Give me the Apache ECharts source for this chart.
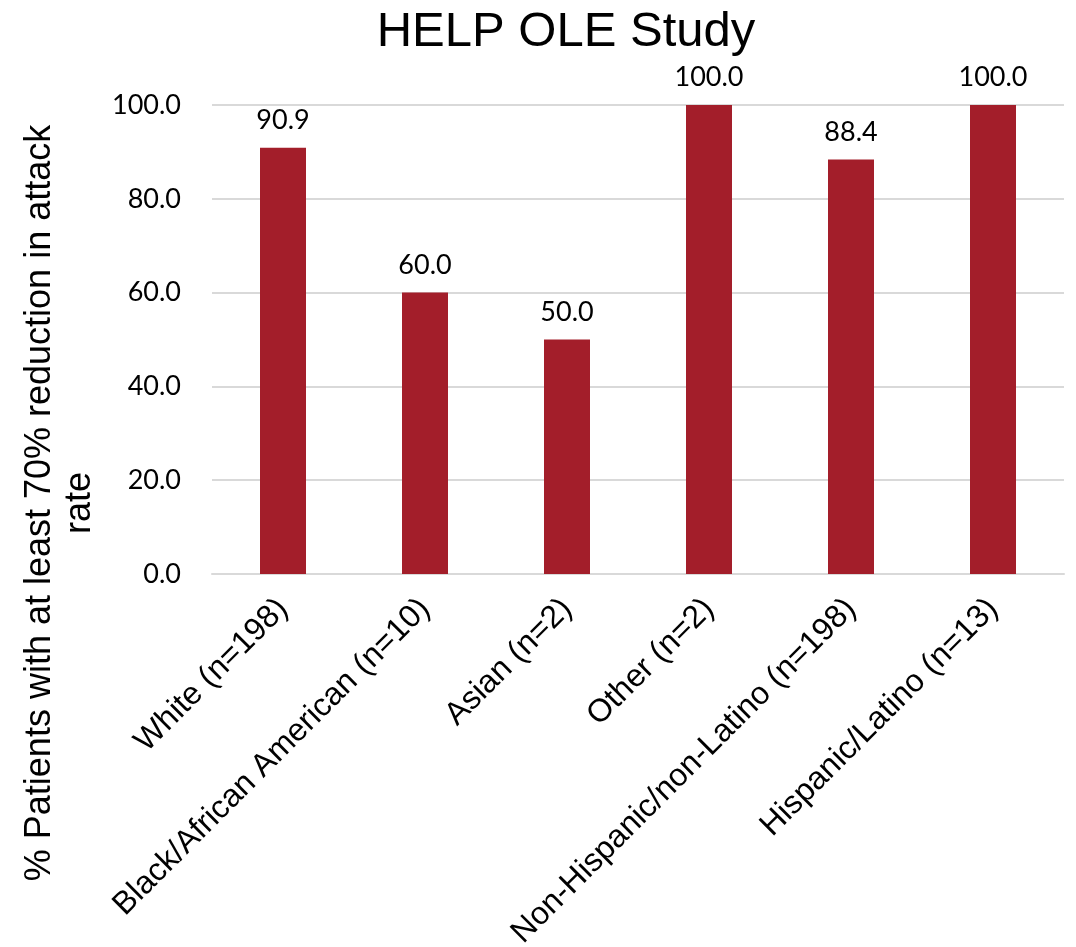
<!DOCTYPE html>
<html>
<head>
<meta charset="utf-8">
<script src="https://cdn.jsdelivr.net/npm/echarts@6/dist/echarts.min.js"></script>
<style>
  html, body { margin: 0; padding: 0; background: #fff; }
  #chart { width: 1076px; height: 947px; }
</style>
</head>
<body>
<div id="chart"></div>
<script>
// Subgroups and response rates (%)
const categories = [
  'White (n=198)',
  'Black/African American (n=10)',
  'Asian (n=2)',
  'Other (n=2)',
  'Non-Hispanic/non-Latino (n=198)',
  'Hispanic/Latino (n=13)'
];
const responseRates = [90.9, 60.0, 50.0, 100.0, 88.4, 100.0];
const yTicks = [0, 20, 40, 60, 80, 100];

const chart = echarts.init(document.getElementById('chart'));

chart.setOption({
  animation: false,
  title: {
    text: 'HELP OLE Study',
    left: 561,
    textAlign: 'center',
    top: 3,
    textStyle: {
      fontFamily: 'Liberation Sans, Arial, sans-serif',
      fontSize: 49,
      fontWeight: 'normal',
      color: '#000'
    }
  },
  grid: {
    left: 212,
    right: 12,
    top: 105,
    bottom: 373,
    containLabel: false,
    outerBoundsMode: 'none'
  },
  xAxis: {
    type: 'category',
    data: categories,
    axisLine: { show: true, lineStyle: { color: '#d9d9d9', width: 2 } },
    axisTick: { show: false },
    axisLabel: {
      rotate: 45,
      interval: 0,
      margin: 30,
      fontFamily: 'Liberation Sans, Arial, sans-serif',
      fontSize: 32,
      color: '#000'
    }
  },
  yAxis: {
    type: 'value',
    min: yTicks[0],
    max: yTicks[yTicks.length - 1],
    interval: 20,
    axisLine: { show: false },
    axisTick: { show: false },
    splitLine: { lineStyle: { color: '#d9d9d9', width: 2 } },
    axisLabel: {
      margin: 31,
      formatter: v => v.toFixed(1),
      fontFamily: 'Lato, sans-serif',
      fontSize: 27,
      color: '#000'
    }
  },
  graphic: [{
    type: 'text',
    x: 60,
    y: 503,
    rotation: Math.PI / 2,
    style: {
      text: '% Patients with at least 70% reduction in attack\nrate',
      fontFamily: 'Liberation Sans, Arial, sans-serif',
      fontSize: 36,
      lineHeight: 40,
      fill: '#000',
      align: 'center',
      verticalAlign: 'middle'
    }
  }],
  series: [{
    type: 'bar',
    data: responseRates,
    barWidth: 46,
    itemStyle: { color: '#a31e2a' },
    label: {
      show: true,
      position: 'top',
      distance: 14,
      formatter: p => p.value.toFixed(1),
      fontFamily: 'Lato, sans-serif',
      fontSize: 27,
      color: '#000'
    }
  }]
});
</script>
</body>
</html>
